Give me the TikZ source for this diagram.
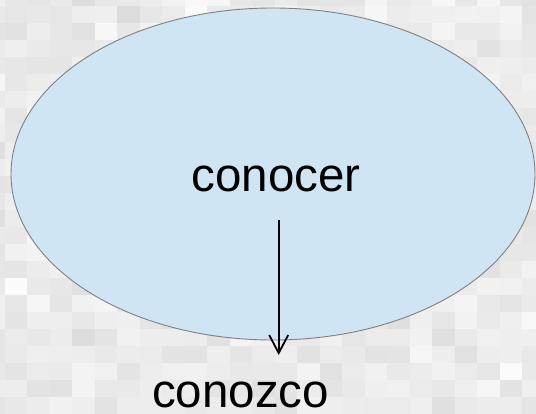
\documentclass[tikz,border=0pt]{standalone}
\usepackage{fontspec}
\setmainfont{Liberation Sans}
\usetikzlibrary{shapes.geometric,arrows.meta}
\definecolor{bubble}{HTML}{CFE5F3}
\definecolor{rim}{HTML}{808080}
\tikzset{
  bigfont/.style={font=\fontsize{47.5}{56}\selectfont, inner sep=0pt},
  bubblebox/.style={ellipse, draw=rim, line width=0.9pt, fill=bubble, inner sep=0pt},
  derive/.style={line width=1.8pt, -{Straight Barb[length=18pt,width=19pt,line width=1.8pt]}},
}
\begin{document}
\begin{tikzpicture}[x=1pt,y=-1pt]
\useasboundingbox (0,0) rectangle (536,414);
\clip (0,0) rectangle (536,414);
% mosaic of light grey tiles behind the drawing
\pgfmathsetseed{11}
\foreach \i in {0,...,24} {
  \foreach \j in {0,...,25} {
    \pgfmathsetmacro{\g}{0.855+0.045*(rnd+rnd+rnd)}
    \definecolor{tile}{gray}{\g}
    \fill[tile] ({22.5*\i-18},{17*\j-11.3}) rectangle +(22.6,17.1);
  }
}
% the verb and its first-person form
\node[bubblebox, minimum width=524pt, minimum height=332pt] (verb) at (273,174) {};
\node[bigfont, anchor=base] (inf) at (276,192) {conocer};
\node[bigfont, anchor=base] (form) at (240.5,407.5) {conozco};
\coordinate (from) at (278.7,220);
\coordinate (to) at (278.7,355);
\draw[derive] (from) -- (to);
\end{tikzpicture}
\end{document}
